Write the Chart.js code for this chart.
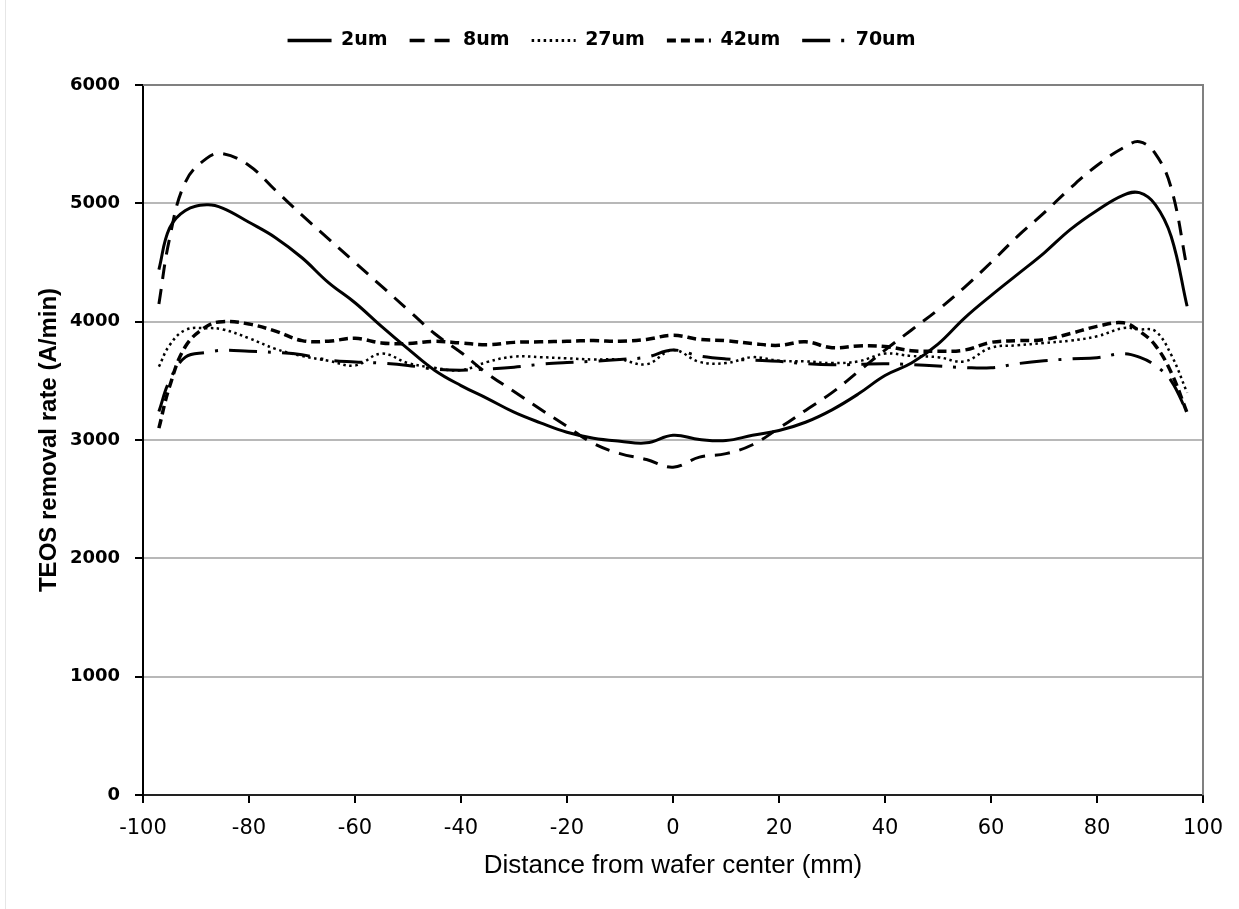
<!DOCTYPE html>
<html>
<head>
<meta charset="utf-8">
<script src="https://cdn.jsdelivr.net/npm/chart.js@4.4.1/dist/chart.umd.min.js"></script>
<style>
  html, body { margin: 0; padding: 0; background: #fff; }
  #wrap { position: relative; width: 1239px; height: 909px; }
  #edge { position: absolute; left: 5px; top: 0; width: 1px; height: 909px; background: #e6e6e6; }
</style>
</head>
<body>
<div id="wrap"><canvas id="myChart" width="1239" height="909"></canvas><div id="edge"></div></div>
<script>
// distance from wafer center (mm)
const distances = [-97, -95, -92, -88, -85, -80, -75, -70, -65, -60, -55, -50, -45, -40, -35, -30, -25, -20, -15, -10, -5, 0,
  5, 10, 15, 20, 25, 30, 35, 40, 45, 50, 55, 60, 65, 70, 75, 80, 85, 88, 91, 94, 97];

// TEOS removal rate (A/min) per pattern width
const rate2um = [4440, 4790, 4940, 4987, 4960, 4840, 4710, 4540, 4330, 4160, 3960, 3770, 3590, 3460, 3350, 3235, 3145, 3065, 3015, 2990, 2976, 3040,
  3005, 2995, 3040, 3080, 3150, 3255, 3390, 3545, 3650, 3810, 4030, 4220, 4400, 4580, 4780, 4940, 5070, 5090, 4990, 4720, 4130];
const rate8um = [4150, 4700, 5180, 5380, 5420, 5320, 5110, 4900, 4700, 4500, 4300, 4100, 3900, 3740, 3560, 3410, 3260, 3115, 2970, 2885, 2835, 2770,
  2855, 2885, 2960, 3100, 3250, 3400, 3580, 3760, 3930, 4100, 4290, 4500, 4720, 4920, 5130, 5320, 5470, 5520, 5420, 5130, 4450];
const rate27um = [3620, 3800, 3930, 3945, 3935, 3860, 3770, 3710, 3670, 3630, 3730, 3650, 3610, 3590, 3660, 3705, 3700, 3690, 3680, 3680, 3640, 3760,
  3660, 3650, 3700, 3670, 3665, 3650, 3665, 3730, 3710, 3700, 3665, 3780, 3800, 3820, 3840, 3876, 3946, 3935, 3920, 3720, 3400];
const rate42um = [3100, 3450, 3790, 3960, 4000, 3980, 3920, 3840, 3835, 3860, 3820, 3815, 3834, 3820, 3805, 3825, 3830, 3834, 3840, 3834, 3850, 3885,
  3850, 3840, 3815, 3800, 3830, 3780, 3795, 3790, 3755, 3750, 3760, 3825, 3840, 3848, 3900, 3960, 3990, 3920, 3800, 3570, 3230];
const rate70um = [3240, 3500, 3700, 3740, 3758, 3750, 3740, 3720, 3675, 3660, 3650, 3630, 3600, 3590, 3600, 3615, 3640, 3655, 3665, 3680, 3700, 3760,
  3710, 3685, 3675, 3665, 3645, 3635, 3640, 3645, 3637, 3625, 3612, 3610, 3645, 3670, 3685, 3695, 3730, 3700, 3630, 3500, 3230];

const seriesNames = ['2um', '8um', '27um', '42um', '70um'];

// tick labels
const xTickValues = [-100, -80, -60, -40, -20, 0, 20, 40, 60, 80, 100];
const yTickValues = [0, 1000, 2000, 3000, 4000, 5000, 6000];

function points(values) {
  return distances.map((d, i) => ({x: d, y: values[i]}));
}

const lineStyles = [
  {borderDash: [], borderWidth: 3},
  {borderDash: [15, 10], borderWidth: 3},
  {borderDash: [2.5, 3.5], borderWidth: 2.5},
  {borderDash: [9, 5], borderWidth: 3.5},
  {borderDash: [28, 11, 3, 11], borderWidth: 3}
];
const allRates = [rate2um, rate8um, rate27um, rate42um, rate70um];

const datasets = seriesNames.map((name, i) => ({
  label: name,
  data: points(allRates[i]),
  borderColor: '#000',
  backgroundColor: '#000',
  borderWidth: lineStyles[i].borderWidth,
  borderDash: lineStyles[i].borderDash,
  borderCapStyle: 'butt',
  pointRadius: 0,
  pointStyle: 'line',
  tension: 0.4,
  fill: false
}));

// fixed legend height so the plot starts where the reference does
const legendHeight = {
  id: 'legendHeight',
  afterInit(chart) {
    const lg = chart.legend;
    if (!lg) return;
    const fit = lg.fit.bind(lg);
    lg.fit = function () { fit(); this.height = 76; };
  }
};

// dark grey frame on top and right of the plot
const frame = {
  id: 'frame',
  beforeDatasetsDraw(chart) {
    const {ctx, chartArea: a} = chart;
    ctx.save();
    ctx.strokeStyle = '#808080';
    ctx.lineWidth = 2;
    ctx.beginPath();
    ctx.moveTo(a.left, a.top);
    ctx.lineTo(a.right, a.top);
    ctx.lineTo(a.right, a.bottom);
    ctx.stroke();
    ctx.restore();
  }
};

var ctx = document.getElementById('myChart').getContext('2d');
var chart = new Chart(ctx, {
  type: 'line',
  data: { datasets: datasets },
  plugins: [legendHeight, frame],
  options: {
    responsive: false,
    maintainAspectRatio: false,
    animation: false,
    layout: { padding: { top: 9, right: 36, left: 0, bottom: 0 } },
    plugins: {
      tooltip: { enabled: false },
      legend: {
        position: 'top',
        labels: {
          usePointStyle: true,
          pointStyle: 'line',
          pointStyleWidth: 44,
          padding: 22,
          color: '#000',
          font: { family: "'DejaVu Sans'", size: 19, weight: 'bold' },
          generateLabels: (c) => {
            const items = Chart.defaults.plugins.legend.labels.generateLabels(c);
            items.forEach((it, i) => {
              it.lineDash = lineStyles[i].borderDash;
              it.lineWidth = lineStyles[i].borderWidth + 0.5;
              it.lineCap = 'butt';
              it.strokeStyle = '#000';
              it.pointStyle = 'line';
            });
            return items;
          }
        }
      }
    },
    scales: {
      x: {
        type: 'linear',
        min: -100,
        max: 100,
        afterBuildTicks: (s) => { s.ticks = xTickValues.map(v => ({value: v})); },
        afterFit: (s) => { s.height = 114; },
        grid: { drawOnChartArea: false, color: '#000', lineWidth: 2, tickLength: 8 },
        border: { color: '#222', width: 2 },
        ticks: { color: '#000', padding: 13, callback: (v) => String(v), font: { family: "'DejaVu Sans'", size: 21 } },
        title: {
          display: true,
          text: 'Distance from wafer center (mm)',
          color: '#000',
          padding: { top: 0, bottom: 28 },
          font: { family: "'Liberation Sans'", size: 26 }
        }
      },
      y: {
        min: 0,
        max: 6000,
        afterBuildTicks: (s) => { s.ticks = yTickValues.map(v => ({value: v})); },
        afterFit: (s) => { s.width = 143; },
        grid: { color: '#b8b8b8', lineWidth: 2, tickColor: '#000', tickLength: 8 },
        border: { color: '#000', width: 2 },
        ticks: { color: '#000', padding: 15, callback: (v) => String(v), font: { family: "'DejaVu Sans'", size: 18, weight: 'bold' } },
        title: {
          display: true,
          text: 'TEOS removal rate (A/min)',
          color: '#000',
          padding: { top: 35, bottom: 0 },
          font: { family: "'Liberation Sans'", size: 24, weight: 'bold' }
        }
      }
    }
  }
});
</script>
</body>
</html>
